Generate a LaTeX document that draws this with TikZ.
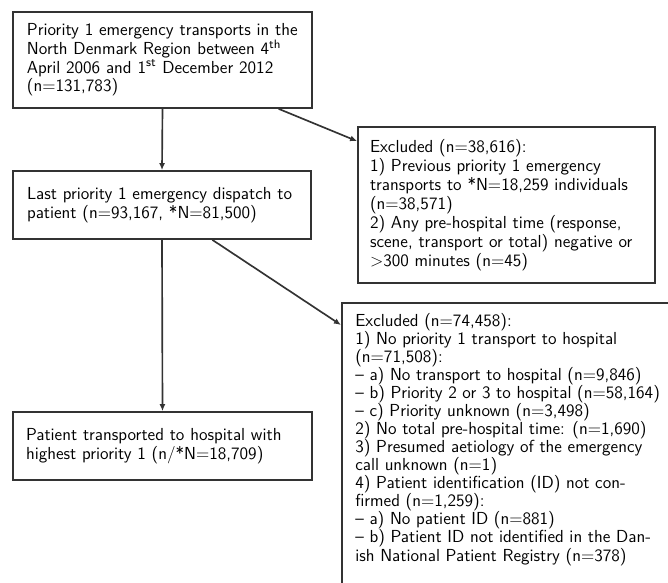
\documentclass[tikz,border=0pt]{standalone}
\usepackage{fontspec}
\usetikzlibrary{calc,arrows.meta}
\begin{document}
\begin{tikzpicture}[x=0.6316pt,y=-0.6316pt,
  box/.style={draw=black!80,line width=1.05pt,font=\sffamily\fontsize{11}{11.8}\selectfont,align=left,inner ysep=0pt},
  arr/.style={draw=black!80,line width=1.05pt,-{Latex[length=4.5pt,width=3.8pt]}}]
\useasboundingbox (0,0) rectangle (668,583);
\clip (0,0) rectangle (668,583);
\node[box,inner xsep=8.84pt,text width=171.2pt,minimum height=60.63pt] (A) at (162.5,60)
 {Priority 1 emergency transports in the\\
  North Denmark Region between 4\textsuperscript{th}\\
  April 2006 and 1\textsuperscript{st} December 2012\\
  (n=131,783)};
\node[box,inner xsep=8.84pt,text width=170.5pt,minimum height=42.95pt] (B) at (162,205)
 {Last priority 1 emergency dispatch to\\
  patient (n=93,167, *N=81,500)};
\node[box,inner xsep=7.58pt,text width=172.4pt,minimum height=98.5pt,
  font=\sffamily\fontsize{11}{11.95}\selectfont] (C) at (506.5,205)
 {Excluded (n=38,616):\\
  1) Previous priority 1 emergency\\
  transports to *N=18,259 individuals\\
  (n=38,571)\\
  2) Any pre-hospital time (response,\\
  scene, transport or total) negative or\\
  \textgreater300 minutes (n=45)};
\node[box,inner xsep=8.2pt,text width=172.4pt,minimum height=42.95pt] (E) at (162.5,446)
 {Patient transported to hospital with\\
  highest priority 1 (n/*N=18,709)};
\node[draw=black!80,line width=1.05pt,anchor=north west,inner sep=0pt,
  minimum width=222pt,minimum height=188pt] (D) at (341,302) {};
\node[font=\sffamily\fontsize{11}{11.4}\selectfont,align=left,anchor=north west,inner sep=0pt] (Dt) at (355,313)
 {Excluded (n=74,458):\\
  1) No priority 1 transport to hospital\\
  (n=71,508):\\
  -- a) No transport to hospital (n=9,846)\\
  -- b) Priority 2 or 3 to hospital (n=58,164)\\
  -- c) Priority unknown (n=3,498)\\
  2) No total pre-hospital time: (n=1,690)\\
  3) Presumed aetiology of the emergency\\
  call unknown (n=1)\\
  4) Patient identification (ID) not con-\\
  firmed (n=1,259):\\
  -- a) No patient ID (n=881)\\
  -- b) Patient ID not identified in the Dan-\\
  ish National Patient Registry (n=378)};
\draw[arr] (A.south) -- (B.north);
\draw[arr] (B.south) -- (E.north);
\draw[arr] ($(A.south west)!0.886!(A.south east)$) -- ($(C.north west)+(0,15)$);
\draw[arr] ($(B.south west)!0.668!(B.south east)$) -- ($(D.north west)+(0,23)$);
\end{tikzpicture}
\end{document}
